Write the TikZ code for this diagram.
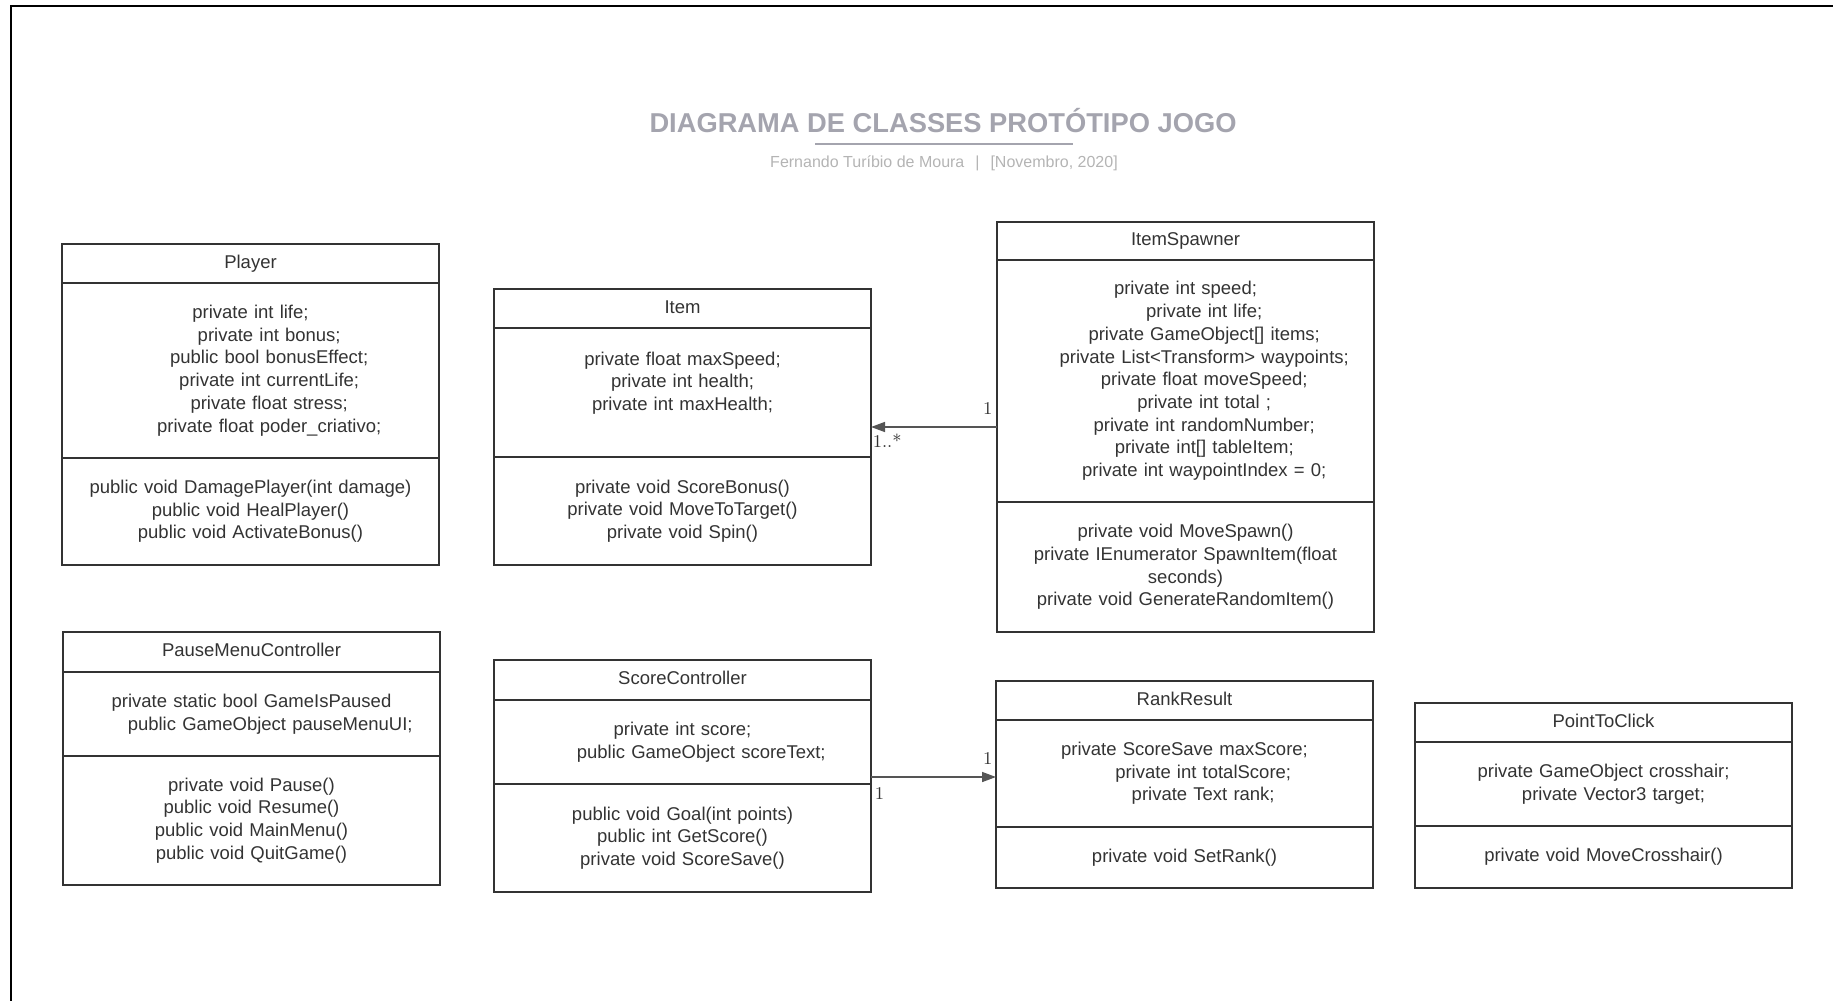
\documentclass[tikz,border=0pt]{standalone}
\usepackage{fontspec}
\newfontfamily\classfont{Liberation Sans}
\usetikzlibrary{positioning,arrows.meta}

\definecolor{ink}{HTML}{333333}
\definecolor{wire}{HTML}{555555}
\definecolor{titlegray}{HTML}{A4A4AE}
\definecolor{subgray}{HTML}{B4B4B4}

% leading blank of the shifted member lines
\newcommand{\ind}{\hspace*{18.7pt}}

\tikzset{
  box/.style={draw=ink, line width=1pt, inner sep=0pt, outer sep=0pt,
    text width=188.5pt, align=center, text=ink,
    font=\classfont\fontsize{9.25}{11.35}\selectfont},
  head/.style={box, text height=6.9pt, text depth=2.3pt},
  mult/.style={inner sep=0pt, text=ink, font=\fontsize{9}{10}\selectfont},
  assoc/.style={draw=wire, line width=0.75pt, -{Triangle[length=7pt,width=5pt]}},
}

\begin{document}
\begin{tikzpicture}[x=0.5pt,y=-0.5pt]
\useasboundingbox (0,0) rectangle (1833,1001);
\draw[line width=1.25pt] (11,1001) -- (11,6) -- (1833,6);

% title
\node(title) at (943,132)[anchor=base, text=titlegray,
  font=\classfont\bfseries\fontsize{13.65}{16}\selectfont] {DIAGRAMA DE CLASSES PROTÓTIPO JOGO};
\draw[titlegray, line width=1pt] (815,144) -- (1073,144);
\node(author) at (944,167)[anchor=base, text=subgray,
  font=\classfont\fontsize{8}{10}\selectfont] {Fernando Turíbio de Moura\hspace{5.5pt}|\hspace{5.5pt}[Novembro, 2020]};

% Player
\node(player) at (62,244)[head, anchor=north west, minimum height=19.5pt] {Player};
\node(playerattr)[box, below=0pt of player, minimum height=87.5pt]
  {private int life;\\ \ind private int bonus;\\ \ind public bool bonusEffect;\\
   \ind private int currentLife;\\ \ind private float stress;\\ \ind private float poder\_criativo;};
\node(playermeth)[box, below=0pt of playerattr, minimum height=53.5pt]
  {public void DamagePlayer(int damage)\\ public void HealPlayer()\\ public void ActivateBonus()};

% Item
\node(item) at (494,289)[head, anchor=north west, minimum height=19.5pt] {Item};
\node(itemattr)[box, below=0pt of item, minimum height=64.5pt]
  {private float maxSpeed;\\ private int health;\\ private int maxHealth;\\ \mbox{}};
\node(itemmeth)[box, below=0pt of itemattr, minimum height=54pt]
  {private void ScoreBonus()\\ private void MoveToTarget()\\ private void Spin()};

% ItemSpawner
\node(spawn) at (997,222)[head, anchor=north west, minimum height=19pt] {ItemSpawner};
\node(spawnattr)[box, below=0pt of spawn, minimum height=121pt]
  {private int speed;\\ \ind private int life;\\ \ind private GameObject[] items;\\
   \ind private List<Transform> waypoints;\\ \ind private float moveSpeed;\\ \ind private int total ;\\
   \ind private int randomNumber;\\ \ind private int[] tableItem;\\ \ind private int waypointIndex = 0;};
\node(spawnmeth)[box, below=0pt of spawnattr, minimum height=65pt]
  {private void MoveSpawn()\\ private IEnumerator SpawnItem(float\\ seconds)\\ private void GenerateRandomItem()};

% PauseMenuController
\node(pause) at (63,632)[head, anchor=north west, minimum height=20pt] {PauseMenuController};
\node(pauseattr)[box, below=0pt of pause, minimum height=42pt]
  {private static bool GameIsPaused\\ \ind public GameObject pauseMenuUI;};
\node(pausemeth)[box, below=0pt of pauseattr, minimum height=64.5pt]
  {private void Pause()\\ public void Resume()\\ public void MainMenu()\\ public void QuitGame()};

% ScoreController
\node(score) at (494,660)[head, anchor=north west, minimum height=20pt] {ScoreController};
\node(scoreattr)[box, below=0pt of score, minimum height=42pt]
  {private int score;\\ \ind public GameObject scoreText;};
\node(scoremeth)[box, below=0pt of scoreattr, minimum height=54pt]
  {public void Goal(int points)\\ public int GetScore()\\ private void ScoreSave()};

% RankResult
\node(rank) at (996,681)[head, anchor=north west, minimum height=19.5pt] {RankResult};
\node(rankattr)[box, below=0pt of rank, minimum height=53.5pt]
  {private ScoreSave maxScore;\\ \ind private int totalScore;\\ \ind private Text rank;};
\node(rankmeth)[box, below=0pt of rankattr, minimum height=30.5pt] {private void SetRank()};

% PointToClick
\node(click) at (1415,703)[head, anchor=north west, minimum height=19.5pt] {PointToClick};
\node(clickattr)[box, below=0pt of click, minimum height=42pt]
  {private GameObject crosshair;\\ \hspace*{10pt}private Vector3 target;};
\node(clickmeth)[box, below=0pt of clickattr, minimum height=31pt] {private void MoveCrosshair()};

% associations
\coordinate(spawnout) at ([yshift=-23pt]spawnattr.west);
\coordinate(rankin) at ([yshift=-1.75pt]rankattr.west);
\draw[assoc] (spawnout) -- (spawnout -| itemattr.east)
  node[mult, pos=0, anchor=south east, xshift=-2pt, yshift=6pt] (spawnone) {1}
  node[mult, pos=1, anchor=north west, xshift=0.5pt, yshift=-3pt] (itemmany) {1..*};
\draw[assoc] (scoreattr.east |- rankin) -- (rankin)
  node[mult, pos=0, anchor=north west, xshift=1.5pt, yshift=-5pt] (scoreone) {1}
  node[mult, pos=1, anchor=south east, xshift=-1.5pt, yshift=6pt] (rankone) {1};
\end{tikzpicture}
\end{document}
